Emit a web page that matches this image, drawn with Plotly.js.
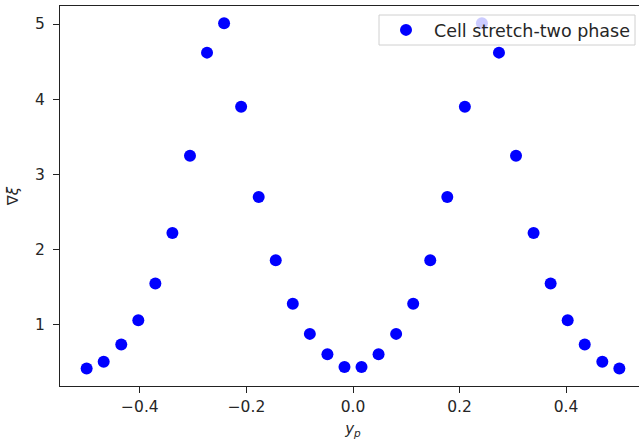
<!DOCTYPE html>
<html>
<head>
<meta charset="utf-8">
<script src="https://cdn.plot.ly/plotly-3.0.1.min.js"></script>
<style>
html, body { margin:0; padding:0; overflow:hidden; background:#fff; }
#chart { width:660px; height:444px; }
</style>
</head>
<body>
<div id="chart"></div>
<script>
// Data
const yp = [-0.500, -0.468, -0.435, -0.403, -0.371, -0.339, -0.306, -0.274, -0.242, -0.210, -0.177, -0.145, -0.113, -0.081, -0.048, -0.016,
            0.016, 0.048, 0.081, 0.113, 0.145, 0.177, 0.210, 0.242, 0.274, 0.306, 0.339, 0.371, 0.403, 0.435, 0.468, 0.500];
const gradXi = [0.42, 0.51, 0.74, 1.06, 1.55, 2.22, 3.25, 4.62, 5.01, 3.90, 2.70, 1.86, 1.28, 0.88, 0.61, 0.44,
                0.44, 0.61, 0.88, 1.28, 1.86, 2.70, 3.90, 5.01, 4.62, 3.25, 2.22, 1.55, 1.06, 0.74, 0.51, 0.42];
const seriesName = "Cell stretch-two phase";
const xTicks = [-0.4, -0.2, 0.0, 0.2, 0.4];
const xTickText = ["\u22120.4", "\u22120.2", "0.0", "0.2", "0.4"];
const yTicks = [1, 2, 3, 4, 5];

const tickFont = {family: "DejaVu Sans", size: 15.5, color: "#262626"};

const trace = {
  x: yp, y: gradXi, type: "scatter", mode: "markers", name: seriesName,
  marker: {color: "#0000ff", size: 12}
};

const layout = {
  width: 660, height: 444,
  margin: {l: 60, r: 14, t: 6, b: 58},
  paper_bgcolor: "#fff", plot_bgcolor: "#fff",
  font: tickFont,
  showlegend: true,
  legend: {
    x: (378 - 60) / 586, xanchor: "left", y: 1 - (30 - 6) / 380, yanchor: "middle",
    bgcolor: "rgba(255,255,255,0)", borderwidth: 0,
    itemwidth: 46,
    font: {family: "DejaVu Sans", size: 17.5, color: "#262626"}
  },
  shapes: [{
    type: "rect", xref: "paper", yref: "paper",
    x0: (379 - 60) / 586, x1: (635 - 60) / 586,
    y0: 1 - (45 - 6) / 380, y1: 1 - (15 - 6) / 380,
    line: {color: "#d0d0d0", width: 1}, fillcolor: "rgba(255,255,255,0.8)", layer: "above"
  }],
  xaxis: {
    range: [-0.55, 0.55], tickvals: xTicks, ticktext: xTickText,
    ticks: "outside", ticklen: 6, tickwidth: 1, tickcolor: "#222",
    showline: true, linecolor: "#222", linewidth: 1, mirror: true,
    showgrid: false, zeroline: false, tickfont: tickFont,
    title: {text: "<i>y</i><sub><i>p</i></sub>", font: {family: "DejaVu Sans", size: 15, color: "#262626"}, standoff: 8}
  },
  yaxis: {
    range: [0.187, 5.24], tickvals: yTicks,
    ticks: "outside", ticklen: 6, tickwidth: 1, tickcolor: "#222",
    showline: true, linecolor: "#222", linewidth: 1, mirror: true,
    showgrid: false, zeroline: false, tickfont: tickFont,
    ticklabelstandoff: 5,
    title: {text: "\u2207<i>\u03be</i>", font: {family: "DejaVu Sans", size: 15, color: "#262626"}, standoff: 12}
  }
};

Plotly.newPlot("chart", [trace], layout, {staticPlot: true, displayModeBar: false});
</script>
</body>
</html>
